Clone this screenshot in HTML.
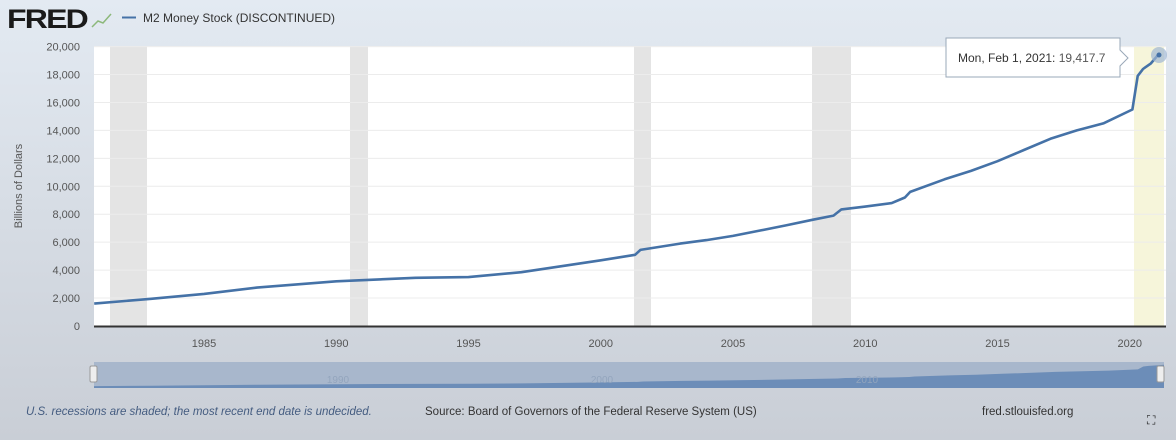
<!DOCTYPE html>
<html><head><meta charset="utf-8"><style>
body{margin:0;width:1176px;height:440px;overflow:hidden;font-family:"Liberation Sans",sans-serif;}
</style></head><body>
<svg id="s" width="1176" height="440" xmlns="http://www.w3.org/2000/svg" font-family="Liberation Sans, sans-serif">
<defs><linearGradient id="bg" x1="0" y1="0" x2="0" y2="1"><stop offset="0" stop-color="#e3eaf2"/><stop offset="1" stop-color="#c9ced6"/></linearGradient></defs>
<rect width="1176" height="440" fill="url(#bg)"/>
<rect x="94" y="46" width="1072" height="280" fill="#ffffff"/>
<g fill="#e4e4e4">
<rect x="110" y="46" width="37" height="280"/><rect x="350" y="46" width="18" height="280"/>
<rect x="634" y="46" width="17" height="280"/><rect x="812" y="46" width="39" height="280"/>
</g>
<rect x="1134" y="46" width="30" height="280" fill="#f6f5da"/>
<g id="grid" stroke="#ececec" stroke-width="1"></g>
<line x1="94" y1="326.5" x2="1166" y2="326.5" stroke="#333" stroke-width="2"/>
<g id="ylab" font-size="11" fill="#555" text-anchor="end"></g>
<g id="xlab" font-size="11" fill="#555" text-anchor="middle"></g>
<text transform="translate(22,186) rotate(-90)" font-size="11" fill="#555" text-anchor="middle">Billions of Dollars</text>
<path id="line" fill="none" stroke="#4572a7" stroke-width="2.6" stroke-linejoin="round"/>
<circle cx="1159" cy="55" r="8" fill="#9fb7d3" opacity="0.7"/>
<circle cx="1159" cy="55" r="2.5" fill="#4572a7"/>
<path d="M946 38 H1120 V50 L1128 58 L1120 66 V77 H946 Z" fill="#fff" stroke="#9aa8b8" stroke-width="1"/>
<text x="958" y="62" font-size="12" fill="#333">Mon, Feb 1, 2021:<tspan fill="#555"> 19,417.7</tspan></text>
<rect x="94" y="362" width="1070" height="26" fill="#a8b7cc"/>
<path id="nav" fill="#6c8db8"/>
<text x="338" y="383" font-size="10" fill="#93a5bd" text-anchor="middle">1990</text>
<text x="602" y="383" font-size="10" fill="#93a5bd" text-anchor="middle">2000</text>
<text x="867" y="383" font-size="10" fill="#93a5bd" text-anchor="middle">2010</text>
<rect x="90" y="366" width="7" height="16" rx="1.5" fill="#eee" stroke="#999"/>
<rect x="1157" y="366" width="7" height="16" rx="1.5" fill="#eee" stroke="#999"/>
<text x="7" y="28" font-size="27" font-weight="bold" fill="#1a1a1a" letter-spacing="-1.5" textLength="80" lengthAdjust="spacingAndGlyphs">FRED</text>
<path d="M92 27 L98 21 L103 23 L111 14" stroke="#8cb87a" stroke-width="1.5" fill="none"/>
<line x1="122" y1="17.5" x2="136" y2="17.5" stroke="#4572a7" stroke-width="2"/>
<text x="143" y="22" font-size="12" fill="#333">M2 Money Stock (DISCONTINUED)</text>
<text x="26" y="415" font-size="11.5" fill="#445c80" font-style="italic">U.S. recessions are shaded; the most recent end date is undecided.</text>
<text x="425" y="415" font-size="11.5" fill="#333">Source: Board of Governors of the Federal Reserve System (US)</text>
<text x="982" y="415" font-size="11.5" fill="#333">fred.stlouisfed.org</text>
<text x="1147" y="424" font-size="12" fill="#222">⛶</text>
</svg>
<script>
var X=function(y){return 204+(y-1985)*26.45;},Y=function(v){return 326-v*0.01397;};
var g=document.getElementById('grid'),yl=document.getElementById('ylab'),xl=document.getElementById('xlab'),h='',a='',b='';
for(var v=2000;v<=20000;v+=2000){var y=Y(v);h+='<line x1="94" x2="1166" y1="'+y+'" y2="'+y+'"/>';}
g.innerHTML=h;
for(var v=0;v<=20000;v+=2000){a+='<text x="80" y="'+(Y(v)+4)+'">'+v.toLocaleString('en-US')+'</text>';}
yl.innerHTML=a;
for(var yr=1985;yr<=2020;yr+=5){b+='<text x="'+X(yr)+'" y="347">'+yr+'</text>';}
xl.innerHTML=b;
var d=[[1980.85,1600],[1983,1950],[1985,2300],[1987,2750],[1990,3200],[1993,3450],[1995,3500],[1997,3850],[2000,4700],[2001.3,5100],[2001.5,5450],[2003,5900],[2004,6150],[2005,6450],[2007,7200],[2008,7600],[2008.8,7900],[2009.1,8350],[2010,8550],[2011,8800],[2011.5,9200],[2011.7,9600],[2013,10500],[2014,11100],[2015,11800],[2016,12600],[2017,13400],[2018,14000],[2019,14500],[2020.1,15500],[2020.3,17900],[2020.5,18400],[2020.8,18800],[2021.08,19417]];
var p=d.map(function(q,i){return (i?'L':'M')+X(q[0]).toFixed(1)+' '+Y(q[1]).toFixed(1);}).join(' ');
document.getElementById('line').setAttribute('d',p);
var nx=function(yr){return 94+(yr-1980.85)*(1070/40.23);},ny=function(v){return 388-v*0.0012;};
var n=d.map(function(q,i){return (i?'L':'M')+nx(q[0]).toFixed(1)+' '+ny(q[1]).toFixed(1);}).join(' ')+' L1164 388 L94 388 Z';
document.getElementById('nav').setAttribute('d',n);
</script>
</body></html>
